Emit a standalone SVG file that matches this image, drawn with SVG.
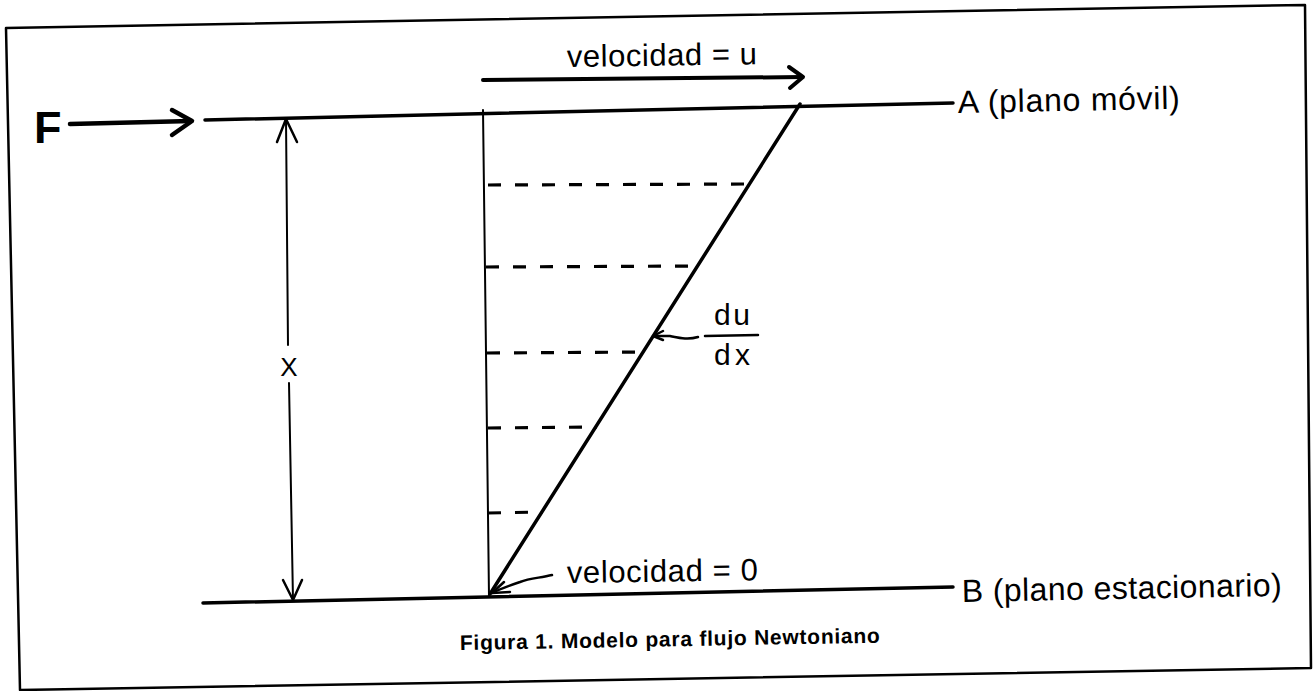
<svg xmlns="http://www.w3.org/2000/svg" width="1314" height="691" viewBox="0 0 1314 691">
<style>
  .t { font-family: "Liberation Sans", Arial, sans-serif; fill: #000; }
  .ln { stroke: #000; fill: none; stroke-linecap: round; stroke-linejoin: round; }
  .dash { stroke: #000; stroke-width: 3.2; stroke-dasharray: 13 14; fill: none; }
</style>
<rect x="0" y="0" width="1314" height="691" fill="#fff"/>
<g id="frame">
  <polygon points="6,28 1305,5 1311,668 20,690" class="ln" stroke-width="2.5"/>
</g>
<g id="plane-A">
  <line x1="205" y1="120" x2="953" y2="103" class="ln" stroke-width="3.5"/>
  <text class="t" x="958" y="113" font-size="32" textLength="222" lengthAdjust="spacing" transform="rotate(-1.1 958 113)">A (plano móvil)</text>
</g>
<g id="plane-B">
  <line x1="203" y1="603" x2="953" y2="587" class="ln" stroke-width="3.5"/>
  <text class="t" x="962" y="602" font-size="32" textLength="320" lengthAdjust="spacing" transform="rotate(-1.1 962 602)">B (plano estacionario)</text>
</g>
<g id="force-F">
  <text class="t" x="34" y="143" font-size="45" font-weight="bold">F</text>
</g>
<g id="velocity-u">
  <text class="t" x="567" y="67" font-size="31" textLength="190" lengthAdjust="spacing" transform="rotate(-0.8 567 67)">velocidad = u</text>
</g>
<g id="velocity-0">
  <text class="t" x="567" y="583" font-size="31" textLength="191" lengthAdjust="spacing" transform="rotate(-0.8 567 583)">velocidad = 0</text>
</g>
<g id="gradient">
  <text class="t" x="714" y="325" font-size="30" textLength="36" lengthAdjust="spacing">du</text>
  <line x1="705" y1="336" x2="758" y2="335" class="ln" stroke-width="2.5"/>
  <text class="t" x="714" y="365" font-size="30" textLength="36" lengthAdjust="spacing">dx</text>
</g>
<g id="distance-x">
  <text class="t" x="289" y="376" font-size="26" text-anchor="middle">X</text>
</g>
<g id="profile">
  <line x1="483" y1="110" x2="489" y2="596" class="ln" stroke-width="2"/>
  <line x1="800" y1="104" x2="490" y2="594" class="ln" stroke-width="3.5"/>
  <line x1="488" y1="185" x2="750" y2="184" class="dash"/>
  <line x1="486" y1="267" x2="700" y2="266" class="dash"/>
  <line x1="487" y1="353" x2="645" y2="352" class="dash"/>
  <line x1="488" y1="428" x2="597" y2="427" class="dash"/>
  <line x1="488" y1="513" x2="543" y2="512" class="dash"/>
</g>
<g id="connectors">
  <path d="M70 124 L191 121" class="ln" stroke-width="4.5"/>
  <path d="M172 110 L192 121 L172 135" class="ln" stroke-width="4.5"/>
  <path d="M483 80 L802 77" class="ln" stroke-width="4"/>
  <path d="M789 67 L803 77 L790 88" class="ln" stroke-width="4"/>
  <path d="M286 119 L288 345" class="ln" stroke-width="2"/>
  <path d="M277 142 L286 119 L297 142" class="ln" stroke-width="2.5"/>
  <path d="M289 383 L293 600" class="ln" stroke-width="2"/>
  <path d="M283 580 L293 600 L302 580" class="ln" stroke-width="2.5"/>
  <path d="M698 337 C 688 340 680 338 670 336 L 655 336" class="ln" stroke-width="2.5"/>
  <path d="M663 331 L653 336 L663 340" class="ln" stroke-width="2.5"/>
  <path d="M552 575 C 540 578 530 578 520 582 C 508 586 500 589 492 593" class="ln" stroke-width="2.5"/>
  <path d="M504 582 L492 593 L510 592" class="ln" stroke-width="2.5"/>
</g>
<g id="caption">
  <text class="t" x="460" y="650" font-size="21" font-weight="bold" textLength="420" lengthAdjust="spacing" transform="rotate(-1 460 650)">Figura 1. Modelo para flujo Newtoniano</text>
</g>
</svg>
